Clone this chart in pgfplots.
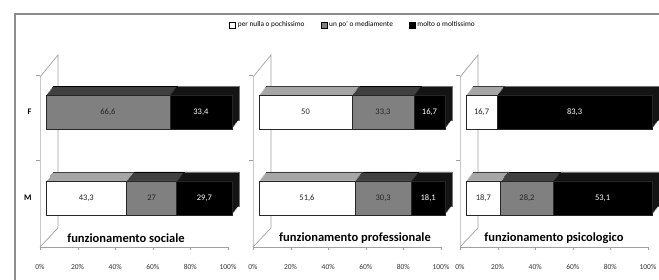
\documentclass[border=0pt]{standalone}
\usepackage{pgfplots}
\usepackage{pgfplotstable}
\pgfplotsset{compat=1.18}
\usepackage{fontspec}
\setmainfont{Carlito}
\definecolor{midgray}{HTML}{808080}
\definecolor{topwhite}{HTML}{A6A6A6}
\definecolor{topgray}{HTML}{404040}
\definecolor{topblack}{HTML}{141414}
\definecolor{wallfront}{HTML}{C8C8C8}
\definecolor{wallback}{HTML}{A0A0A0}
\definecolor{framec}{HTML}{8C8C8C}

% y: 0 = M, 1 = F ; w = per nulla o pochissimo, g = un po' o mediamente, b = molto o moltissimo
\pgfplotstableread{
y w g b
0 43.3 27 29.7
1 0 66.6 33.4
}\sociale
\pgfplotstableread{
y w g b
0 51.6 30.3 18.1
1 50 33.3 16.7
}\professionale
\pgfplotstableread{
y w g b
0 18.7 28.2 53.1
1 16.7 0 83.3
}\psicologico

\pgfplotsset{
  panel/.style={scale only axis, width=188pt, height=192pt,
    xmin=-3.23, xmax=97.85, ymin=-0.57, ymax=1.663, clip=false, anchor=south west,
    xbar stacked, bar width=34pt},
  backpanel/.style={panel, hide axis},
  frontpanel/.style={panel,
    axis x line*=bottom, axis y line*=left, y axis line style={draw=none},
    x axis line style={draw=wallback, line width=0.8pt},
    xtick={-3.23,16.99,37.2,57.4,77.6,97.85},
    xticklabels={0\%,20\%,40\%,60\%,80\%,100\%},
    xtick style={draw=wallback}, tick align=outside, major tick length=3pt,
    xticklabel style={font=\fontsize{7.5}{8}\selectfont, text=black!80, yshift=-11pt},
    ytick={0,1}, ytick style={draw=none},
    yticklabel style={font=\fontsize{8.5}{9}\selectfont\bfseries, xshift=-2pt},
    point meta=rawx,
    nodes near coords={\pgfmathfloatifflags{\pgfplotspointmeta}{0}{}{\pgfmathprintnumber{\pgfplotspointmeta}}},
    nodes near coords style={font=\fontsize{8.5}{9}\selectfont, text=black!85},
    /pgf/number format/use comma,
    /pgf/number format/assume math mode=true,
  },
  sqlegend/.style={legend image code/.code={\draw[##1,draw=black] (0pt,-3pt) rectangle (6pt,3pt);}},
  wseg/.style={fill=white, draw=black!85, line width=0.6pt},
  gseg/.style={fill=midgray, draw=black!85, line width=0.6pt},
  bseg/.style={fill=black, draw=black!85, line width=0.6pt, every node near coord/.append style={text=white}},
  layeredge/.style={},
}
\newcommand{\wall}[1]{%
  \begin{scope}[xshift=#1pt]
  \draw[wallfront, line width=0.7pt] (0pt,32pt) -- (0pt,202pt);
  \draw[wallback, line width=0.7pt] (0pt,202pt) -- (18pt,224pt) -- (18pt,51pt) -- (0pt,32pt);
  \draw[wallback, line width=0.6pt] (-4pt,119pt) -- (0pt,119pt);
  \draw[wallback, line width=0.6pt] (-4pt,204pt) -- (0pt,204pt);
  \end{scope}
}
% depth of the bars: layers shifted up-right, farthest one outlined
\newcommand{\backlayers}[2]{%
  \foreach \k in {8,7,6,5,4,3,2,1}{%
    \ifnum\k=8 \pgfplotsset{layeredge/.style={line width=0.5pt}}%
    \else\pgfplotsset{layeredge/.style={draw=none}}\fi
    \begin{axis}[backpanel, at={({#1pt+6pt+0.875pt*\k},{32pt+1.125pt*\k})}, xmin=0, xmax=101.08]
    \addplot[fill=topwhite, draw=topgray, layeredge] table[x=w,y=y] {#2};
    \addplot[fill=topgray, draw=black, layeredge] table[x=g,y=y] {#2};
    \addplot[fill=topblack, draw=black!55, layeredge] table[x=b,y=y] {#2};
    \end{axis}
  }%
}
\begin{document}
\begin{tikzpicture}
\path[use as bounding box] (0,0) rectangle (659pt,279pt);
\fill[white] (0,0) rectangle (659pt,279pt);
\draw[framec, line width=1.2pt] (15pt,-10pt) rectangle (690pt,265pt);
\wall{40}
\wall{253}
\wall{460}

% ---------- Panel 1: funzionamento sociale ----------
\backlayers{40}{\sociale}
\begin{axis}[frontpanel, at={(40pt,32pt)}, yticklabels={M,F}]
\addplot[wseg] table[x=w,y=y] {\sociale};
\addplot[gseg] table[x=g,y=y] {\sociale};
\addplot[bseg] table[x=b,y=y] {\sociale};
\end{axis}

% ---------- Panel 2: funzionamento professionale ----------
\backlayers{253}{\professionale}
\begin{axis}[frontpanel, at={(253pt,32pt)}, yticklabels={,},
  legend style={at={(0.532,1.156)}, anchor=center, legend columns=3, draw=none, fill=none,
    font=\fontsize{7.3}{8}\selectfont, inner sep=0pt,
    /tikz/every even column/.append style={column sep=14pt}},
  legend cell align=left]
\addplot[wseg, sqlegend] table[x=w,y=y] {\professionale};
\addplot[gseg, sqlegend] table[x=g,y=y] {\professionale};
\addplot[bseg, sqlegend] table[x=b,y=y] {\professionale};
\legend{per nulla o pochissimo, un po' o mediamente, molto o moltissimo}
\end{axis}

% ---------- Panel 3: funzionamento psicologico ----------
\backlayers{460}{\psicologico}
\begin{axis}[frontpanel, at={(460pt,32pt)}, yticklabels={,}]
\addplot[wseg] table[x=w,y=y] {\psicologico};
\addplot[gseg] table[x=g,y=y] {\psicologico};
\addplot[bseg] table[x=b,y=y] {\psicologico};
\end{axis}

\node[font=\fontsize{12.5}{14}\selectfont\bfseries] at (126pt,41pt) {funzionamento sociale};
\node[font=\fontsize{12.5}{14}\selectfont\bfseries] at (355pt,41pt) {funzionamento professionale};
\node[font=\fontsize{12.5}{14}\selectfont\bfseries] at (554pt,41pt) {funzionamento psicologico};
\end{tikzpicture}
\end{document}
